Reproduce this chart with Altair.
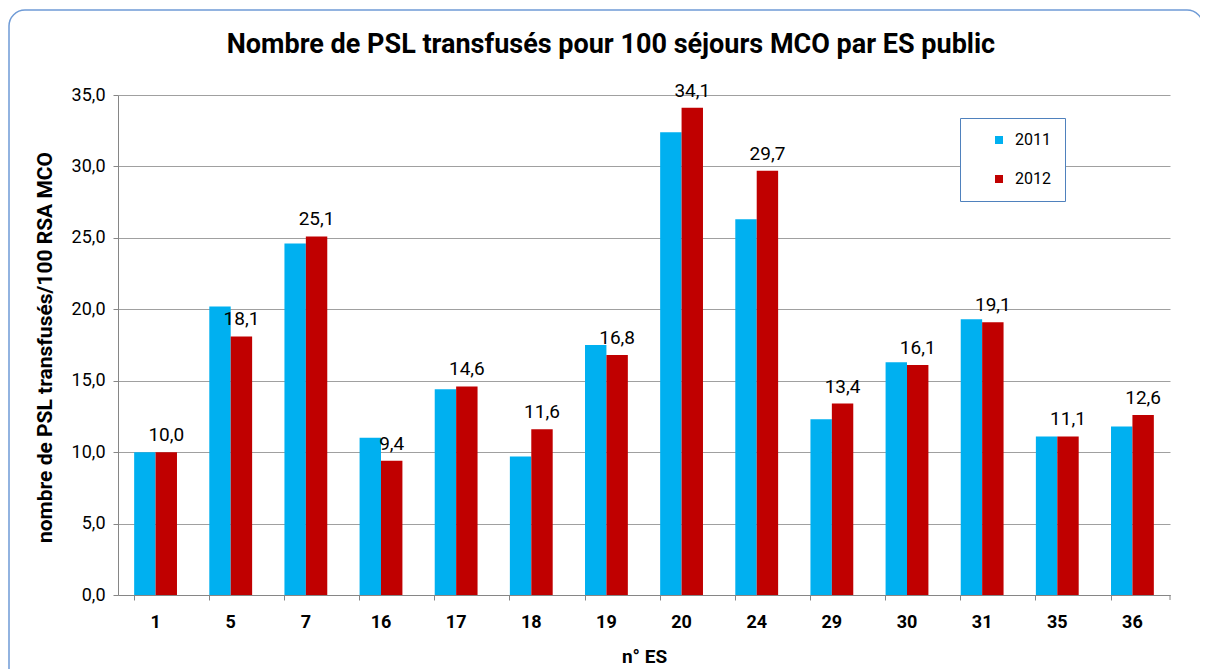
import altair as alt
import pandas as pd

categories = ["1", "5", "7", "16", "17", "18", "19", "20", "24", "29", "30", "31", "35", "36"]
values_2011 = [10.0, 20.2, 24.6, 11.0, 14.4, 9.7, 17.5, 32.4, 26.3, 12.3, 16.3, 19.3, 11.1, 11.8]
values_2012 = [10.0, 18.1, 25.1, 9.4, 14.6, 11.6, 16.8, 34.1, 29.7, 13.4, 16.1, 19.1, 11.1, 12.6]
years = ["2011", "2012"]
y_ticks = [0, 5, 10, 15, 20, 25, 30, 35]
title_text = "Nombre de PSL transfusés pour 100 séjours MCO par ES public"

rows = []
for c, a, b in zip(categories, values_2011, values_2012):
    rows.append({"es": c, "year": "2011", "v": a})
    rows.append({"es": c, "year": "2012", "v": b})
df = pd.DataFrame(rows)

FONT = "Roboto"
BLUE = "#00b0f0"
RED = "#c00000"

x_enc = alt.X(
    "es:N",
    sort=categories,
    scale=alt.Scale(paddingInner=0.43, paddingOuter=0.215),
    axis=alt.Axis(
        title="n° ES",
        bandPosition=0,
        labelFontSize=18,
        labelFontWeight="bold",
        labelColor="#000000",
        labelPadding=13,
        labelAngle=0,
        tickSize=5,
        tickColor="#868686",
        domainColor="#868686",
        titleFontSize=19,
        titleFontWeight="bold",
        titleColor="#000000",
        titleY=61,
        titleBaseline="middle",
    ),
)
xo_enc = alt.XOffset("year:N", scale=alt.Scale(domain=years))
y_enc = alt.Y(
    "v:Q",
    scale=alt.Scale(domain=[0, 35], nice=False),
    axis=alt.Axis(
        title="nombre de PSL transfusés/100 RSA MCO",
        values=y_ticks,
        labelExpr="replace(format(datum.value, '.1f'), '.', ',')",
        labelFontSize=18,
        labelColor="#000000",
        labelPadding=8,
        tickSize=5,
        tickColor="#868686",
        domainColor="#868686",
        grid=True,
        gridColor="#a0a0a0",
        gridWidth=1,
        titleFontSize=21,
        titleFontWeight="bold",
        titleColor="#000000",
        titleX=-73,
        titleY=252,
        titleAngle=270,
        titleAlign="center",
        titleBaseline="middle",
    ),
)

base = alt.Chart(df)

deco = alt.Chart(pd.DataFrame({"t": [title_text]}))

frame = deco.mark_rect(
    fill="transparent", stroke="#6f9bd6", strokeWidth=1.5, cornerRadius=16
).encode(
    x=alt.value(-109), x2=alt.value(1085), y=alt.value(-85), y2=alt.value(600)
)

end_tick = deco.mark_rule(color="#868686").encode(
    x=alt.value(1052), y=alt.value(500), y2=alt.value(505)
)

title = deco.mark_text(
    fontSize=27, fontWeight="bold", color="#000000", font=FONT,
    align="center", baseline="middle"
).encode(x=alt.value(493), y=alt.value(-50), text="t:N")

bars = base.mark_bar().encode(
    x=x_enc,
    xOffset=xo_enc,
    y=y_enc,
    color=alt.Color(
        "year:N",
        scale=alt.Scale(domain=years, range=[BLUE, RED]),
        legend=alt.Legend(
            title=None,
            orient="none",
            legendX=842,
            legendY=23,
            symbolType="square",
            symbolSize=64,
            symbolStrokeWidth=0,
            symbolOffset=17,
            labelFontSize=16,
            labelColor="#000000",
            labelOffset=8,
            rowPadding=23,
            padding=14,
            strokeColor="#4f81bd",
            fillColor="white",
            labelExpr="datum.label + '\u00a0\u00a0\u00a0\u00a0\u00a0'",
        ),
    ),
)

labels = base.transform_filter(alt.datum.year == "2012").transform_calculate(
    lbl="replace(format(datum.v, '.1f'), '.', ',')"
).mark_text(
    baseline="middle", dy=-17, fontSize=19, color="#000000", font=FONT
).encode(
    x=alt.X("es:N", sort=categories),
    xOffset=xo_enc,
    y=alt.Y("v:Q"),
    text=alt.Text("lbl:N"),
)

chart = (
    alt.layer(frame, bars, labels, end_tick, title)
    .properties(
        width=1052,
        height=500,
        autosize=alt.AutoSizeParams(type="none"),
        padding={"left": 110, "top": 87, "right": 30, "bottom": 74},
    )
    .configure(font=FONT)
    .configure_view(stroke=None)
)

chart.save("out.html", embed_options={"renderer": "svg", "actions": False})
